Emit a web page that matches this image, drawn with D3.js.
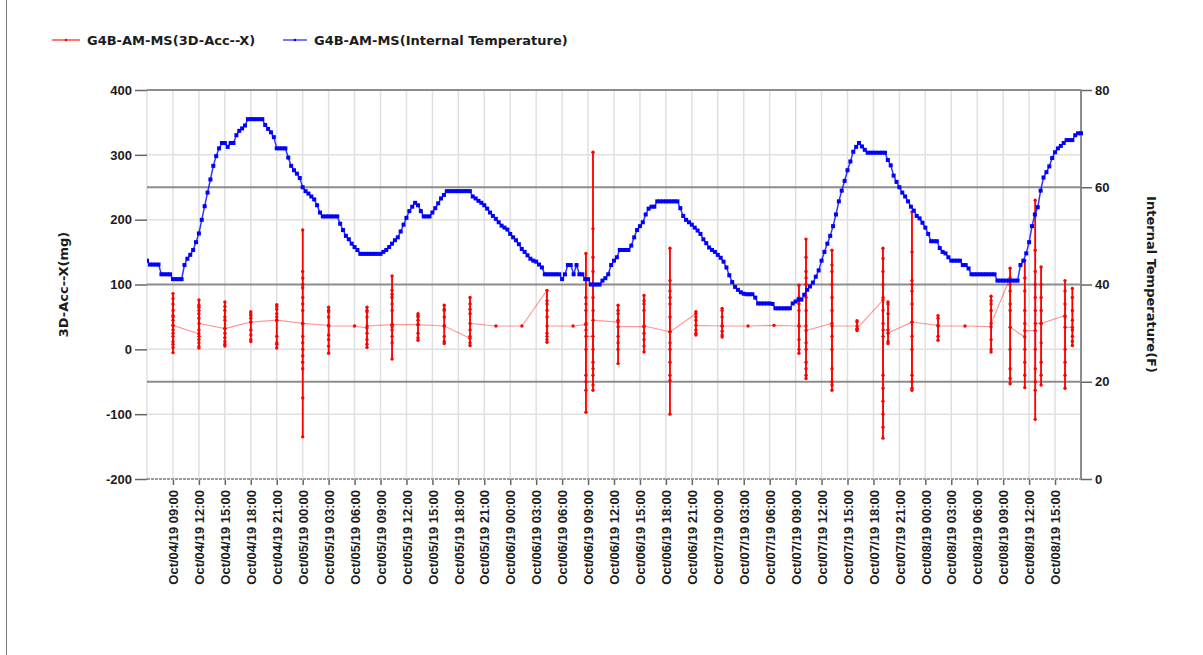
<!DOCTYPE html>
<html lang="en">
<head>
<meta charset="UTF-8">
<title>G4B-AM-MS</title>
<script src="https://d3js.org/d3.v7.min.js"></script>
<style>
    body {
        margin: 0;
        background: #fff;
    }
    svg {
        display: block;
        font-family: "DejaVu Sans", Verdana, sans-serif;
    }
    text {
        fill: #1c1c1c;
        font-weight: bold;
        font-size: 13px;
    }
</style>
</head>
<body>
<svg id="chart" width="1203" height="655"></svg>
<script>
// internal temperature (F), one reading every 20 minutes from tempStart
const tempStart = "2019-10-04 06:00";
const tempStepMin = 20;
const tempValues = [
    44.9, 44.1, 44.1,  44.1, 44.1, 42.1,  42.1, 42.1, 42.1,  41.1, 41.1, 41.1,  41.1, 44.0, 45.3,  46.1, 47.1, 48.7,
    50.5, 53.3, 56.1,  58.9, 61.6, 64.4,  66.4, 68.0, 69.1,  69.1, 68.3, 69.1,  69.1, 70.7, 71.6,  72.1, 72.7, 74.0,
    74.0, 74.0, 74.0,  74.0, 74.0, 72.8,  72.0, 71.3, 70.3,  68.0, 68.0, 68.0,  68.0, 66.1, 64.4,  63.5, 62.8, 61.9,
    60.0, 59.2, 58.7,  58.1, 57.5, 56.3,  54.8, 54.0, 54.0,  54.0, 54.0, 54.0,  54.0, 52.5, 51.2,  50.0, 49.3, 48.4,
    47.7, 47.1, 46.3,  46.3, 46.3, 46.3,  46.3, 46.3, 46.3,  46.3, 46.7, 47.1,  47.7, 48.4, 49.1,  49.7, 50.9, 52.3,
    53.7, 55.1, 56.0,  56.8, 56.3, 55.1,  54.0, 54.0, 54.0,  54.8, 55.7, 56.7,  57.7, 58.4, 59.2,  59.2, 59.2, 59.2,
    59.2, 59.2, 59.2,  59.2, 59.2, 58.1,  57.7, 57.2, 56.8,  56.3, 55.6, 54.8,  54.1, 53.5, 52.8,  52.1, 51.7, 51.3,
    50.4, 49.7, 49.1,  48.3, 47.3, 46.7,  46.0, 45.3, 44.9,  44.7, 44.1, 43.5,  42.1, 42.1, 42.1,  42.1, 42.1, 42.1,
    41.1, 42.1, 44.0,  44.0, 42.1, 44.0,  42.1, 42.1, 41.1,  41.1, 40.0, 40.0,  40.0, 40.0, 40.8,  41.3, 42.1, 44.0,
    44.9, 45.6, 47.1,  47.1, 47.1, 47.1,  48.0, 49.7, 51.2,  52.0, 52.8, 54.4,  55.6, 56.0, 56.0,  57.1, 57.1, 57.1,
    57.1, 57.1, 57.1,  57.1, 57.1, 55.7,  54.1, 53.3, 52.8,  52.3, 51.7, 51.1,  50.4, 49.3, 48.5,  47.6, 47.1, 46.7,
    46.1, 45.5, 44.7,  43.5, 41.9, 40.5,  39.5, 38.9, 38.4,  38.1, 38.0, 38.0,  38.0, 37.3, 36.1,  36.1, 36.1, 36.1,
    36.1, 36.0, 35.1,  35.1, 35.1, 35.1,  35.1, 35.1, 36.1,  36.5, 36.9, 36.9,  37.9, 38.9, 39.6,  40.4, 41.6, 42.9,
    44.9, 46.7, 48.4,  50.0, 52.0, 54.4,  57.1, 59.3, 61.3,  63.5, 65.3, 67.3,  68.3, 69.1, 68.4,  67.7, 67.1, 67.1,
    67.1, 67.1, 67.1,  67.1, 67.1, 65.6,  64.5, 62.4, 61.1,  60.0, 58.9, 58.1,  57.1, 56.0, 55.2,  54.1, 53.6, 52.7,
    51.7, 50.4, 48.9,  48.9, 48.9, 47.5,  46.7, 46.4, 45.6,  44.9, 44.9, 44.9,  44.9, 44.0, 44.0,  43.3, 42.1, 42.1,
    42.1, 42.1, 42.1,  42.1, 42.1, 42.1,  42.1, 40.8, 40.8,  40.8, 40.8, 40.8,  40.8, 40.8, 40.8,  44.0, 44.9, 46.4,
    48.7, 52.0, 54.4,  55.9, 59.3, 62.0,  63.1, 64.3, 66.0,  67.2, 68.0, 68.5,  69.1, 69.7, 69.7,  69.7, 70.7, 71.1,
    71.1
];

// 3D-Acc-X (mg): each recording is a short burst of samples
const accTimes = [
    "2019-10-04 09:00", "2019-10-04 12:00", "2019-10-04 15:00", "2019-10-04 18:00", "2019-10-04 21:00",
    "2019-10-05 00:00", "2019-10-05 03:00", "2019-10-05 06:00", "2019-10-05 07:26", "2019-10-05 10:20",
    "2019-10-05 13:20", "2019-10-05 16:22", "2019-10-05 19:21", "2019-10-05 22:21", "2019-10-06 01:21",
    "2019-10-06 04:15", "2019-10-06 07:16", "2019-10-06 08:45", "2019-10-06 09:34", "2019-10-06 12:28",
    "2019-10-06 15:28", "2019-10-06 18:28", "2019-10-06 21:28", "2019-10-07 00:30", "2019-10-07 03:30",
    "2019-10-07 06:30", "2019-10-07 09:23", "2019-10-07 10:12", "2019-10-07 13:12", "2019-10-07 16:06",
    "2019-10-07 19:06", "2019-10-07 19:41", "2019-10-07 22:27", "2019-10-08 01:28", "2019-10-08 04:35",
    "2019-10-08 07:36", "2019-10-08 09:48", "2019-10-08 11:30", "2019-10-08 12:42", "2019-10-08 13:23",
    "2019-10-08 16:09", "2019-10-08 17:00"
];
const accBursts = [
    [37, 52, 20, 70, 8, 86, -5, 60, 12, 45, 25, 78, 3, 50, 30, 37],
    [24, 55, 10, 68, 2, 76, 15, 60, 5, 48, 30, 65, 20, 40],
    [32, 60, 8, 73, 5, 50, 18, 66, 12, 45, 25, 32],
    [42, 55, 15, 58, 12, 48, 22, 52, 30, 42],
    [45, 62, 10, 69, 2, 55, 20, 66, 8, 50, 45],
    [40, 95, -20, 120, -30, 184, -135, 70, 10, 100, -75, 60, 20, 110, -10, 80, 0, 40],
    [37, 60, 5, 65, -6, 50, 15, 58, 22, 36],
    [36],
    [33, 58, 8, 65, 3, 50, 15, 60, 25, 36],
    [38, 80, 30, 113, -15, 91, 20, 70, 35, 85, 10, 60, 38],
    [38, 52, 18, 55, 14, 45, 25, 50, 38],
    [36, 60, 12, 68, 9, 50, 20, 62, 36],
    [17, 62, 10, 80, 6, 55, 20, 70, 30, 40],
    [36],
    [36],
    [91, 20, 75, 11, 60, 25, 70, 15, 50, 36],
    [36],
    [38, 80, -40, 148, -63, 60, -97, 40, 0, 70, -50, 30, 20],
    [20, 142, -63, 304, -40, 186, -20, 120, -55, 100, 0, 80, -30, 60, 45],
    [42, 60, 0, 68, -22, 45, 10, 55, 20, 35],
    [35, 70, 5, 83, -4, 60, 15, 75, 25, 36],
    [27, 90, -40, 156, -100, 106, -48, 70, -20, 80, 0, 50, 10, 27],
    [55, 25, 58, 22, 50, 30, 45, 37],
    [36, 60, 22, 63, 19, 50, 28, 36],
    [36],
    [37],
    [36, 80, 0, 99, -6, 60, 15, 70, 36],
    [36, 120, -30, 170, -45, 142, -20, 100, -40, 80, 0, 110, 10, 60, 29],
    [40, 120, -50, 153, -63, 100, -30, 130, 0, 80, -55, 60, 20, 36],
    [36, 44, 29, 42, 31, 32],
    [76, 156, -80, 120, -137, 60, -100, 100, -40, 140, -120, 20, 80, -60, 40, 30],
    [30, 70, 9, 73, 12, 55, 25],
    [42, 106, -63, 212, -50, 90, -40, 150, 0, 100, -60, 70, 20, 42],
    [37, 52, 14, 48, 20, 36],
    [36],
    [35, 70, 0, 82, -4, 60, 15, 75, 40],
    [110, 125, -53, 100, -30, 90, 0, 70, -45, 60, 34],
    [19, 137, -59, 110, -40, 90, -20, 60, 0, 40, 29],
    [29, 153, -63, 230, -108, 120, -50, 100, -30, 80, 0, 60, 40],
    [40, 127, -55, 100, -40, 80, -20, 60, 10, 40],
    [52, 106, -60, 90, -40, 70, -20, 50, 0, 34],
    [34, 94, 6, 80, 12, 60, 20, 45, 30]
];

const xDomain = ["2019-10-04 06:00", "2019-10-08 18:00"];
const leftTicks = [-200, -100, 0, 100, 200, 300, 400];
const rightTicks = [0, 20, 40, 60, 80];
const seriesNames = ["G4B-AM-MS(3D-Acc--X)", "G4B-AM-MS(Internal Temperature)"];
const seriesColors = ["#ff0000", "#0000ff"];

const parse = d3.utcParse("%Y-%m-%d %H:%M");
const t0 = parse(tempStart);
const tempData = tempValues.map((v, i) => ({ t: d3.utcMinute.offset(t0, i * tempStepMin), v }));
const burstData = accTimes.map((s, k) => {
    const t = parse(s);
    return accBursts[k].map((v, j) => ({ t: d3.utcSecond.offset(t, j * 4), v }));
});
const accData = burstData.flat();

const L = 147, R = 1081, T = 90, B = 479;
const svg = d3.select("#chart");

const x = d3.scaleUtc().domain(xDomain.map(parse)).range([L, R]);
const yL = d3.scaleLinear().domain([-200, 400]).range([B, T]);
const yR = d3.scaleLinear().domain([0, 80]).range([B, T]);

// frame line on the left
svg.append("line").attr("x1", 6.5).attr("x2", 6.5).attr("y1", 0).attr("y2", 655)
    .attr("stroke", "#777").attr("stroke-width", 1);

// grid
const gridTimes = d3.utcHour.every(3).range(x.domain()[0], d3.utcHour.offset(x.domain()[1], 1));
svg.append("g").selectAll("line").data(gridTimes).join("line")
    .attr("x1", d => x(d)).attr("x2", d => x(d))
    .attr("y1", T).attr("y2", B)
    .attr("stroke", "#e0e0e0").attr("stroke-width", 1.5);

svg.append("g").selectAll("line").data(leftTicks.filter(d => d !== 100 && d !== 400 && d !== -200)).join("line")
    .attr("x1", L).attr("x2", R)
    .attr("y1", d => yL(d)).attr("y2", d => yL(d))
    .attr("stroke", "#e0e0e0").attr("stroke-width", 1.5);

svg.append("g").selectAll("line").data(rightTicks.filter(d => d > 0)).join("line")
    .attr("x1", L).attr("x2", R)
    .attr("y1", d => yR(d)).attr("y2", d => yR(d))
    .attr("stroke", "#8c8c8c").attr("stroke-width", 2);

svg.append("line").attr("x1", R).attr("x2", R).attr("y1", T).attr("y2", B)
    .attr("stroke", "#8c8c8c").attr("stroke-width", 2);

// axes
const axL = svg.append("g").attr("transform", `translate(${L},0)`)
    .call(d3.axisLeft(yL).tickValues(leftTicks).tickSize(12).tickPadding(3).tickFormat(d => String(d)));
const axR = svg.append("g").attr("transform", `translate(${R},0)`)
    .call(d3.axisRight(yR).tickValues(rightTicks).tickSize(11).tickPadding(3).tickFormat(d => String(d)));
const labelTimes = gridTimes.slice(1, -1);
const axB = svg.append("g").attr("transform", `translate(0,${B})`)
    .call(d3.axisBottom(x).tickValues(labelTimes).tickSize(6).tickFormat(d3.utcFormat("%b/%d/%y %H:%M")));
axB.selectAll("text")
    .attr("transform", "rotate(-90)")
    .attr("text-anchor", "end")
    .attr("x", -11).attr("y", 0).attr("dy", "0.36em");

[axL, axR, axB].forEach(a => {
    a.select(".domain").remove();
    a.selectAll(".tick line").attr("stroke", "#666").attr("stroke-width", 1.5);
    a.selectAll("text").attr("font-family", null).attr("font-size", null).attr("fill", null);
});

svg.append("line").attr("x1", L).attr("x2", R).attr("y1", B).attr("y2", B)
    .attr("stroke", "#9a9a9a").attr("stroke-width", 2).attr("stroke-dasharray", "3,1");

// axis titles
svg.append("text").attr("transform", `translate(63,${(T + B) / 2}) rotate(-90)`)
    .attr("text-anchor", "middle").attr("dy", "0.35em").text("3D-Acc--X(mg)");
svg.append("text").attr("transform", `translate(1152,${(T + B) / 2}) rotate(90)`)
    .attr("text-anchor", "middle").attr("dy", "0.35em").text("Internal Temperature(F)");

// series
svg.append("clipPath").attr("id", "plot")
    .append("rect").attr("x", L).attr("y", T - 4).attr("width", R - L + 4).attr("height", B - T + 8);
const plot = svg.append("g").attr("clip-path", "url(#plot)");

const accLine = d3.line().x(d => x(d.t)).y(d => yL(d.v));
// faint line joining the recordings
plot.append("path").datum(accData).attr("d", accLine)
    .attr("fill", "none").attr("stroke", seriesColors[0]).attr("stroke-opacity", 0.4).attr("stroke-width", 1.2);
// samples inside one recording overlap into a solid stroke
plot.append("g").selectAll("path").data(burstData.filter(b => b.length > 1)).join("path")
    .attr("d", accLine)
    .attr("fill", "none").attr("stroke", seriesColors[0]).attr("stroke-width", 1.8);
plot.append("g").selectAll("circle").data(accData).join("circle")
    .attr("cx", d => x(d.t)).attr("cy", d => yL(d.v)).attr("r", 1.7)
    .attr("fill", seriesColors[0]);

const tempLine = d3.line().x(d => x(d.t)).y(d => yR(d.v));
plot.append("path").datum(tempData).attr("d", tempLine)
    .attr("fill", "none").attr("stroke", seriesColors[1]).attr("stroke-opacity", 0.8).attr("stroke-width", 1.5);
plot.append("g").selectAll("rect").data(tempData).join("rect")
    .attr("x", d => x(d.t) - 2).attr("y", d => yR(d.v) - 2)
    .attr("width", 4).attr("height", 4)
    .attr("fill", seriesColors[1]);

// legend
const legendX = [52, 283];
const legendW = [28, 24];
seriesNames.forEach((name, i) => {
    const g = svg.append("g").attr("transform", `translate(${legendX[i]},40)`);
    g.append("line").attr("x1", 0).attr("x2", legendW[i]).attr("y1", 0).attr("y2", 0)
        .attr("stroke", seriesColors[i]).attr("stroke-opacity", 0.7).attr("stroke-width", 1.5);
    g.append("circle").attr("cx", legendW[i] / 2).attr("cy", 0).attr("r", 1.3).attr("fill", seriesColors[i]);
    g.append("text").attr("x", legendW[i] + 7).attr("y", 0).attr("dy", "0.35em").text(name);
});
</script>
</body>
</html>
